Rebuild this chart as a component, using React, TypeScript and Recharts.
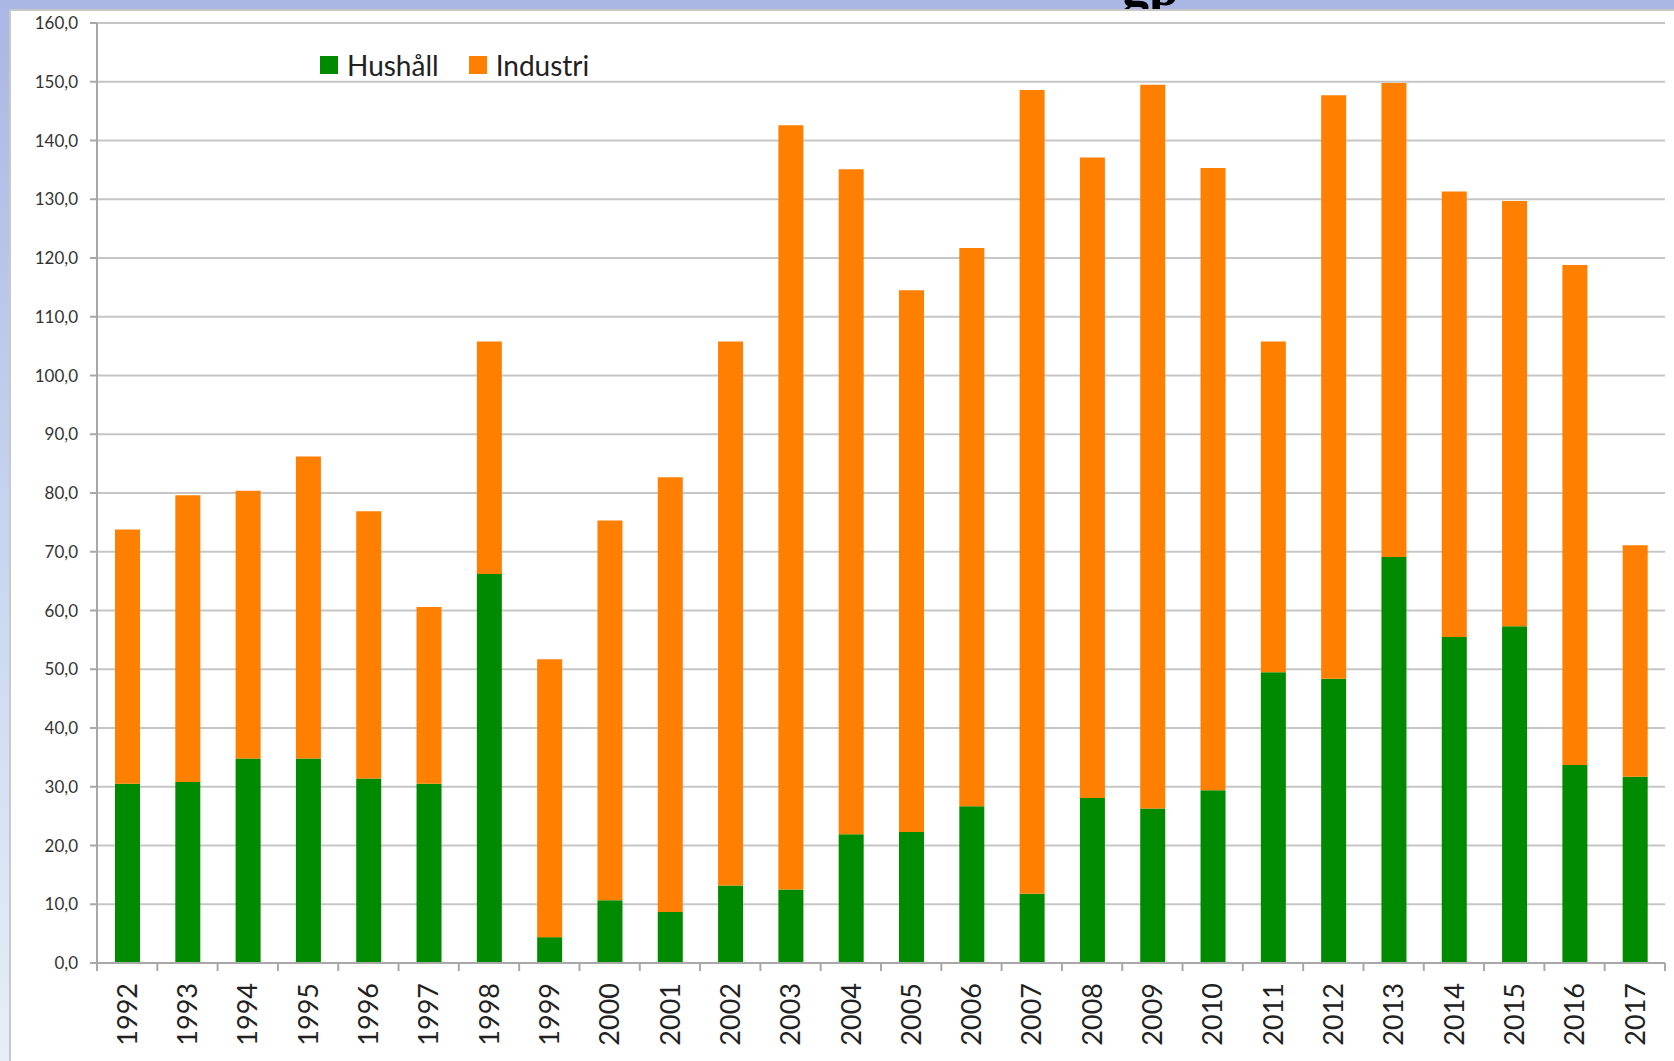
import React from 'react';
import { BarChart, Bar, XAxis, YAxis, CartesianGrid, Legend } from 'recharts';

const years = [
    '1992', '1993', '1994', '1995', '1996', '1997', '1998', '1999', '2000', '2001', '2002', '2003', '2004',
    '2005', '2006', '2007', '2008', '2009', '2010', '2011', '2012', '2013', '2014', '2015', '2016', '2017',
];

const hushall = [
    30.5, 30.8, 34.8, 34.8, 31.4, 30.5, 66.2, 4.4, 10.7, 8.7, 13.2, 12.5, 21.9,
    22.3, 26.7, 11.8, 28.1, 26.3, 29.4, 49.5, 48.4, 69.1, 55.5, 57.3, 33.7, 31.7,
];

const industri = [
    43.3, 48.8, 45.6, 51.4, 45.5, 30.1, 39.6, 47.3, 64.6, 74.0, 92.6, 130.1, 113.2,
    92.2, 95.0, 136.8, 109.0, 123.2, 105.9, 56.3, 99.3, 80.7, 75.8, 72.4, 85.1, 39.4,
];

const yTicks = [0, 10, 20, 30, 40, 50, 60, 70, 80, 90, 100, 110, 120, 130, 140, 150, 160];

const data = years.map((year, i) => ({
    year,
    Hushåll: hushall[i],
    Industri: industri[i],
}));

const GREEN = '#008a00';
const ORANGE = '#ff7f00';
const GRID = '#c6c6c6';
const FONT = 'Lato, "Open Sans", sans-serif';

// excel style: tick marks sit between the categories, labels rotated
const YearTick = (props: any) => {
    const { x, y, payload, index } = props;
    const half = payload && payload.offset ? payload.offset : 30.15;
    const last = index === years.length - 1;
    return (
        <g>
            <line x1={x - half} x2={x - half} y1={y} y2={y + 8} stroke="#a8a8a8" strokeWidth={2} />
            {last && <line x1={x + half} x2={x + half} y1={y} y2={y + 8} stroke="#a8a8a8" strokeWidth={2} />}
            <text
                x={x}
                y={y + 20}
                transform={`rotate(-90, ${x}, ${y + 20})`}
                textAnchor="end"
                dy="0.36em"
                fontSize={27}
                fontFamily={FONT}
                fill="#222"
            >
                {payload.value}
            </text>
        </g>
    );
};

const LegendBox = (props: any) => {
    const items = props.payload || [];
    return (
        <div style={{ display: 'flex', alignItems: 'center', fontFamily: FONT, fontSize: 28, color: '#222' }}>
            {items.map((it: any) => (
                <div key={it.value} style={{ display: 'flex', alignItems: 'center', marginRight: 30 }}>
                    <span style={{ width: 18, height: 18, background: it.color, marginRight: 9, display: 'inline-block' }} />
                    <span>{it.value}</span>
                </div>
            ))}
        </div>
    );
};

export default function App() {
    return (
        <div
            style={{
                position: 'fixed',
                top: 0,
                left: 0,
                width: 1674,
                height: 1061,
                overflow: 'hidden',
                background: 'linear-gradient(180deg, #aab6e4 0%, #c9d8f1 55%, #e6eef8 100%)',
            }}
        >
            <div style={{ position: 'absolute', top: 0, left: 0, width: 1674, height: 9, background: '#aab6e4' }} />
            <div
                style={{
                    position: 'absolute',
                    top: 9,
                    left: 9,
                    width: 1674,
                    height: 1061,
                    background: '#fff',
                    borderTop: '2px solid #c8c8c8',
                    borderLeft: '2px solid #c8c8c8',
                }}
            />
            <div style={{ position: 'absolute', top: 0, left: 1122, height: 9, overflow: 'hidden' }}>
                <div style={{ marginTop: -40, fontFamily: '"Liberation Serif", serif', fontWeight: 'bold', fontSize: 54, lineHeight: '54px', color: '#000' }}>
                    gp
                </div>
            </div>
            <div style={{ position: 'absolute', top: 0, left: 0 }}>
                <BarChart
                    width={1674}
                    height={1061}
                    data={data}
                    margin={{ top: 23, right: 9, left: 10, bottom: 0 }}
                    barSize={25}
                >
                    <CartesianGrid vertical={false} stroke={GRID} strokeWidth={2} />
                    <XAxis
                        dataKey="year"
                        interval={0}
                        height={98}
                        tickLine={false}
                        tickSize={0}
                        tickMargin={0}
                        stroke="#a8a8a8"
                        strokeWidth={2}
                        tick={<YearTick />}
                    />
                    <YAxis
                        width={87}
                        domain={[0, 160]}
                        ticks={yTicks}
                        interval={0}
                        tickSize={7}
                        tickMargin={12}
                        stroke="#a8a8a8"
                        strokeWidth={2}
                        tickFormatter={(v: number) => v.toFixed(1).replace('.', ',')}
                        tick={{ fontSize: 17, fontFamily: FONT, fill: '#333' }}
                    />
                    <Legend
                        layout="horizontal"
                        verticalAlign="middle"
                        align="center"
                        content={<LegendBox />}
                        wrapperStyle={{ position: 'absolute', top: 48, left: 320, width: 400 }}
                    />
                    <Bar dataKey="Hushåll" stackId="a" fill={GREEN} isAnimationActive={false} />
                    <Bar dataKey="Industri" stackId="a" fill={ORANGE} isAnimationActive={false} />
                </BarChart>
            </div>
        </div>
    );
}
